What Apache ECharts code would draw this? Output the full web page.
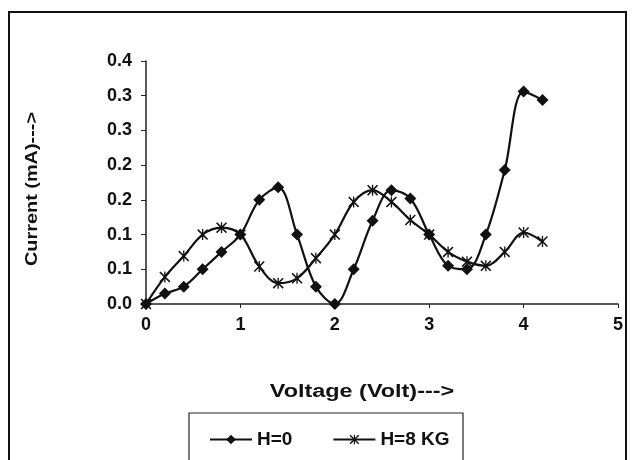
<!DOCTYPE html>
<html>
<head>
<meta charset="utf-8">
<script src="https://cdn.jsdelivr.net/npm/echarts@6/dist/echarts.min.js"></script>
<style>
  html, body { margin: 0; padding: 0; background: #fff; }
  #chart { width: 634px; height: 460px; }
</style>
</head>
<body>
<div id="chart"></div>
<script>
// voltage steps (Volt)
var voltage = [0, 0.2, 0.4, 0.6, 0.8, 1.0, 1.2, 1.4, 1.6, 1.8, 2.0, 2.2, 2.4, 2.6, 2.8, 3.0, 3.2, 3.4, 3.6, 3.8, 4.0, 4.2];
// current (mA), H=0
var currentH0 = [0, 0.015, 0.025, 0.05, 0.075, 0.10, 0.15, 0.168, 0.10, 0.025, 0, 0.05, 0.12, 0.164, 0.152, 0.10, 0.055, 0.05, 0.10, 0.193, 0.306, 0.294];
// current (mA), H=8 KG
var currentH8 = [0, 0.039, 0.069, 0.10, 0.11, 0.10, 0.054, 0.030, 0.037, 0.066, 0.10, 0.147, 0.164, 0.147, 0.121, 0.10, 0.075, 0.061, 0.055, 0.075, 0.103, 0.09];
// y tick labels as printed (one decimal)
var yTickLabels = ['0.0', '0.1', '0.1', '0.2', '0.2', '0.3', '0.3', '0.4'];
var seriesNames = ['H=0', 'H=8 KG'];

function pairs(xs, ys) {
    var out = [];
    for (var i = 0; i < xs.length; i++) {
        out.push([xs[i], ys[i]]);
    }
    return out;
}

var font = '"Liberation Sans", Arial, sans-serif';
// asterisk like marker (x + vertical bar)
var starMark = 'path://M0,1L1,0L5,4L9,0L10,1L6,5L10,9L9,10L5,6L1,10L0,9L4,5Z M4.4,0L5.6,0L5.6,10L4.4,10Z';

var myChart = echarts.init(document.getElementById('chart'));

var option = {
    animation: false,
    backgroundColor: '#fff',
    textStyle: { fontFamily: font },
    grid: {
        left: 146,
        right: 16,
        top: 61,
        bottom: 156
    },
    xAxis: {
        type: 'value',
        min: 0,
        max: 5,
        interval: 1,
        splitLine: { show: false },
        axisLine: { onZero: false, lineStyle: { color: '#222', width: 1.5 } },
        axisTick: { show: true, inside: false, length: 4, lineStyle: { color: '#222' } },
        axisLabel: {
            margin: 12,
            color: '#111',
            fontSize: 18,
            fontWeight: 'bold',
            fontFamily: font
        }
    },
    yAxis: {
        type: 'value',
        min: 0,
        max: 0.35,
        interval: 0.05,
        splitLine: { show: false },
        axisLine: { show: true, lineStyle: { color: '#222', width: 1.5 } },
        axisTick: { show: true, inside: false, length: 5, lineStyle: { color: '#222' } },
        axisLabel: {
            margin: 14,
            color: '#111',
            fontSize: 18,
            fontWeight: 'bold',
            fontFamily: font,
            formatter: function (v) {
                return yTickLabels[Math.round(v / 0.05)];
            }
        }
    },
    legend: {
        data: seriesNames,
        left: 204,
        top: 425,
        itemWidth: 42,
        itemHeight: 12,
        itemGap: 40,
        textStyle: {
            color: '#111',
            fontSize: 19,
            fontWeight: 'bold',
            fontFamily: font
        }
    },
    graphic: [
        //外框
        {
            type: 'rect',
            z: -10,
            shape: { x: 9, y: 12, width: 617, height: 470 },
            style: { fill: 'none', stroke: '#111', lineWidth: 2 }
        },
        //图例框
        {
            type: 'rect',
            z: -5,
            shape: { x: 189, y: 413, width: 274, height: 70 },
            style: { fill: '#fff', stroke: '#222', lineWidth: 1.2 }
        },
        //纵轴标题
        {
            type: 'text',
            x: 32,
            y: 189,
            rotation: Math.PI / 2,
            scaleX: 1.17,
            style: {
                text: 'Current (mA)--->',
                fill: '#111',
                font: 'bold 17px ' + font,
                align: 'center',
                verticalAlign: 'middle'
            }
        },
        //横轴标题
        {
            type: 'text',
            x: 362,
            y: 392,
            scaleX: 1.3,
            style: {
                text: 'Voltage (Volt)--->',
                fill: '#111',
                font: 'bold 18px ' + font,
                align: 'center',
                verticalAlign: 'middle'
            }
        }
    ],
    series: [
        {
            name: seriesNames[0],
            type: 'line',
            smooth: 0.35,
            data: pairs(voltage, currentH0),
            symbol: 'diamond',
            symbolSize: 12,
            lineStyle: { color: '#111', width: 2.2 },
            itemStyle: { color: '#111' }
        },
        {
            name: seriesNames[1],
            type: 'line',
            smooth: 0.35,
            data: pairs(voltage, currentH8),
            symbol: starMark,
            symbolSize: 11,
            lineStyle: { color: '#111', width: 2.2 },
            itemStyle: { color: '#111' }
        }
    ]
};
myChart.setOption(option);
</script>
</body>
</html>
